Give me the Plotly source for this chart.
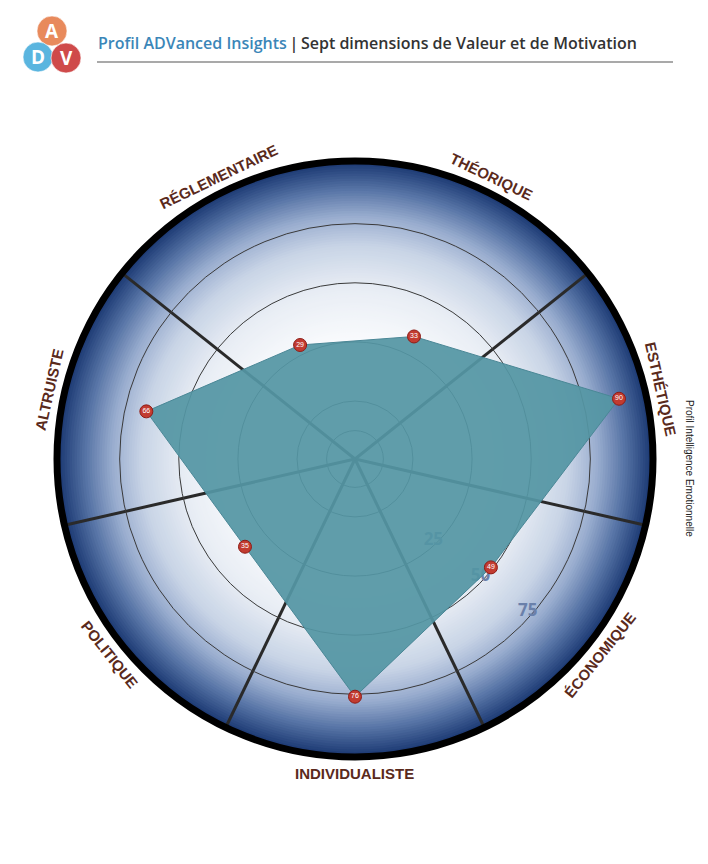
import math
import plotly.graph_objects as go

# ---------------- data ----------------
categories = ["THÉORIQUE", "ESTHÉTIQUE", "ÉCONOMIQUE", "INDIVIDUALISTE",
              "POLITIQUE", "ALTRUISTE", "RÉGLEMENTAIRE"]
values = [33, 90, 49, 76, 35, 66, 29]
radial_ticks = [-12.5, 0, 25, 50, 75]
radial_ticktext = ["", "", "25", "50", "75"]

# ---------------- layout geometry ----------------
W, H = 692, 848          # figure size (page body has an 8px margin)
OFF = 8                  # page offset of the figure
CX, CY, R = 355, 459, 298  # polar centre / radius in page px
n = len(categories)
step = 360 / n
theta = [i * step for i in range(n)]
spokes = [t - step / 2 for t in theta]
ROT = 90 - step / 2      # math angle of the first category
RAD_ANGLE = -37


def px(x, y):
    return (x - OFF) / W, 1 - (y - OFF) / H


def px_circle(cx, cy, r):
    x0, y1 = px(cx - r, cy - r)
    x1, y0 = px(cx + r, cy + r)
    return dict(x0=x0, x1=x1, y0=y0, y1=y1)


def grad_color(f):
    stops = [(0.0, (255, 255, 255)), (0.38, (251, 252, 254)),
             (0.58, (232, 237, 244)), (0.72, (200, 212, 230)),
             (0.82, (152, 172, 206)), (0.91, (86, 115, 165)),
             (1.0, (26, 56, 114))]
    for (f0, c0), (f1, c1) in zip(stops, stops[1:]):
        if f <= f1:
            t = (f - f0) / (f1 - f0)
            return "rgb(%d,%d,%d)" % tuple(round(a + (b - a) * t) for a, b in zip(c0, c1))
    return "rgb(%d,%d,%d)" % stops[-1][1]


shapes = []
# top grey band
shapes.append(dict(type="rect", xref="paper", yref="paper", x0=0, x1=1,
                   y0=px(0, 3)[1], y1=1, fillcolor="#dcdcdc", line_width=0))
# radial gradient background
N = 120
for k in range(N, 0, -1):
    shapes.append(dict(type="circle", xref="paper", yref="paper", layer="below",
                       fillcolor=grad_color(k / N), line_width=0,
                       **px_circle(CX, CY, R * k / N)))
# logo circles
logo = [("A", 52, 31, "#e88a5c"), ("D", 38, 57, "#5ab5df"), ("V", 66, 58, "#cf4a4a")]
for (_, cx, cy, col) in logo:
    shapes.append(dict(type="circle", xref="paper", yref="paper",
                       fillcolor=col, line=dict(color="rgba(255,255,255,0.6)", width=1),
                       **px_circle(cx, cy, 15)))
# title underline
lx0, ly = px(97, 62)
lx1, _ = px(673, 62)
shapes.append(dict(type="line", xref="paper", yref="paper",
                   x0=lx0, x1=lx1, y0=ly, y1=ly,
                   line=dict(color="#555555", width=1.2)))

annotations = []
for (txt, cx, cy, _) in logo:
    x, y = px(cx, cy)
    annotations.append(dict(text=txt, x=x, y=y, xref="paper", yref="paper",
                            showarrow=False, xanchor="center", yanchor="middle",
                            font=dict(family="Open Sans", size=19, color="white", weight="bold")))
x, y = px(96, 43)
annotations.append(dict(
    text="<span style='color:#3b86b8'>Profil ADVanced Insights</span>"
         "<span style='color:#333333'>\u2009|\u2009Sept dimensions de Valeur et de Motivation</span>",
    x=x, y=y, xref="paper", yref="paper", showarrow=False,
    xanchor="left", yanchor="middle",
    font=dict(family="Open Sans", size=16, weight=600)))
x, y = px(690, 468)
annotations.append(dict(text="Profil Intelligence Emotionnelle", x=x, y=y,
                        xref="paper", yref="paper", showarrow=False, textangle=90,
                        xanchor="center", yanchor="middle",
                        font=dict(family="Liberation Sans", size=10, color="#222222")))

LR = 314
for i, cat in enumerate(categories):
    a = ROT - theta[i]
    an = math.radians(a)
    x, y = px(CX + LR * math.cos(an), CY - LR * math.sin(an))
    ta = 90 - a if math.sin(an) >= 0 else -(90 + a)
    annotations.append(dict(text="<b>%s</b>" % cat, x=x, y=y,
                            xref="paper", yref="paper", showarrow=False,
                            textangle=ta, xanchor="center", yanchor="middle",
                            font=dict(family="Liberation Sans", size=15, color="#5a2a1c")))

fig = go.Figure()
fig.add_trace(go.Scatterpolar(
    r=values + values[:1], theta=theta + theta[:1], mode="lines", fill="toself",
    fillcolor="rgba(84,150,164,0.93)", line=dict(color="#4a8796", width=1),
    hoverinfo="skip", showlegend=False))
fig.add_trace(go.Scatterpolar(
    r=values, theta=theta, mode="markers+text", text=[str(v) for v in values],
    textposition="middle center",
    textfont=dict(family="Liberation Sans", size=7, color="white"),
    marker=dict(size=13, color="#c23b30", line=dict(color="#8e1c16", width=1)),
    showlegend=False))

dx0, dy1 = px(CX - R, CY - R)
dx1, dy0 = px(CX + R, CY + R)
fig.update_layout(
    width=W, height=H, margin=dict(l=0, r=0, t=0, b=0),
    paper_bgcolor="white", plot_bgcolor="white",
    shapes=shapes, annotations=annotations,
    polar=dict(
        domain=dict(x=[dx0, dx1], y=[dy0, dy1]),
        bgcolor="rgba(0,0,0,0)",
        angularaxis=dict(thetaunit="degrees", direction="clockwise", rotation=ROT,
                         tickmode="array", tickvals=spokes, showticklabels=False, ticks="",
                         showgrid=True, gridcolor="#2a2a2a", gridwidth=2.5,
                         showline=True, linecolor="black", linewidth=7),
        radialaxis=dict(range=[-24.5, 101.5], tickmode="array", tickvals=radial_ticks,
                        ticktext=radial_ticktext, showline=False, ticks="",
                        gridcolor="#3a3a3a", gridwidth=1, angle=RAD_ANGLE, tickangle=RAD_ANGLE,
                        layer="below traces",
                        tickfont=dict(family="Open Sans", size=17, color="#6a80aa", weight="bold")),
    ),
)
fig.write_html("out.html")
